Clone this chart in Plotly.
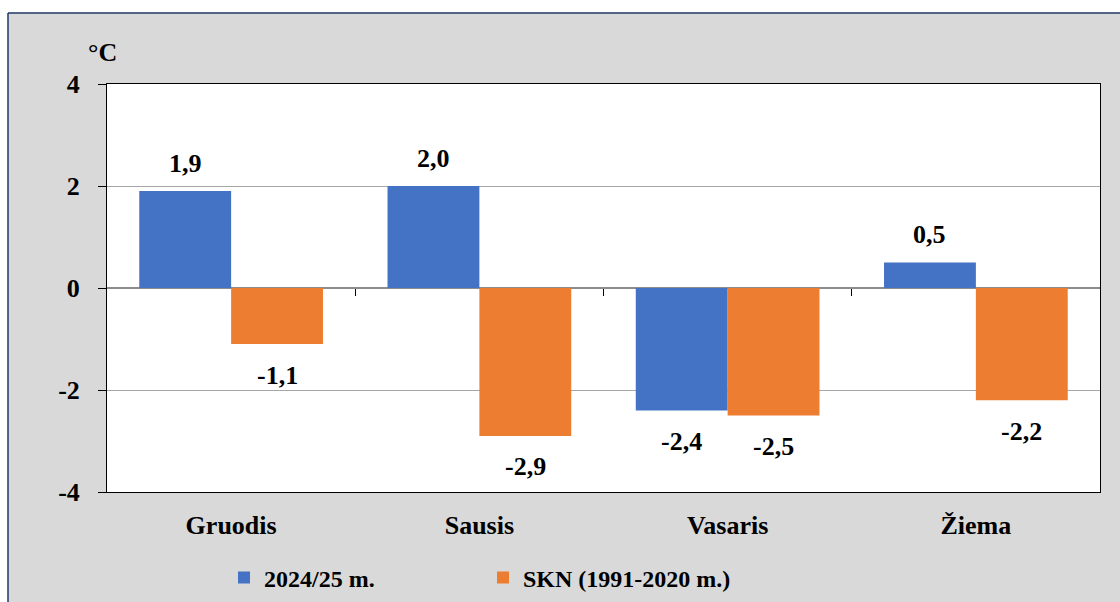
import plotly.graph_objects as go

categories = ["Gruodis", "Sausis", "Vasaris", "Žiema"]
series_names = ["2024/25 m.", "SKN (1991-2020 m.)"]
values_2425 = [1.9, 2.0, -2.4, 0.5]
values_skn = [-1.1, -2.9, -2.5, -2.2]
y_ticks = [-4, -2, 0, 2, 4]
y_ticklabels = ["-4", "-2", "0", "2", "4"]
colors = ["#4472C4", "#ED7D31"]

FONT = "Liberation Serif"
W, H = 1120, 602

# paper == whole figure (zero margins); plot area placed by axis domains
def fx(px):
    return px / W

def fy(py):
    return 1 - py / H

PLOT_L, PLOT_R, PLOT_T, PLOT_B = 107, 1100, 84, 492
ZERO_Y = (PLOT_T + PLOT_B) / 2

fig = go.Figure()
for name, vals, col in zip(series_names, [values_2425, values_skn], colors):
    fig.add_trace(go.Bar(x=categories, y=vals, name=name, marker=dict(color=col, line=dict(width=0))))

# invisible helper trace for x boundary ticks on the zero line
fig.add_trace(go.Scatter(x=[0.5, 1.5, 2.5], y=[0, 0, 0], xaxis="x2", mode="markers",
                         marker=dict(opacity=0), showlegend=False, hoverinfo="skip"))

def fmt(v):
    return f"{v:.1f}".replace(".", ",")

bold26 = dict(family=FONT, size=26, color="black", weight="bold")

bar_half = 46
annotations = []
for vals, shift in [(values_2425, -bar_half), (values_skn, bar_half)]:
    for c, v in zip(categories, vals):
        annotations.append(dict(x=c, y=v, xref="x", yref="y", text=fmt(v), showarrow=False,
                                xanchor="center", yanchor="middle",
                                xshift=shift, yshift=28 if v >= 0 else -31, font=bold26))
annotations.append(dict(x=fx(102), y=fy(52), xref="paper", yref="paper", text="°C",
                        showarrow=False, xanchor="center", yanchor="middle", font=bold26))

shapes = [
    dict(type="rect", xref="paper", yref="paper", x0=0, x1=1, y0=fy(13), y1=1,
         fillcolor="white", line=dict(width=0)),
    dict(type="rect", xref="paper", yref="paper", x0=0, x1=fx(8), y0=0, y1=1,
         fillcolor="white", line=dict(width=0)),
    dict(type="line", xref="paper", yref="paper", x0=fx(8), x1=1, y0=fy(13), y1=fy(13),
         line=dict(color="#203864", width=1.5)),
    dict(type="line", xref="paper", yref="paper", x0=fx(8), x1=fx(8), y0=0, y1=fy(13),
         line=dict(color="#203864", width=1.5)),
]

fig.update_layout(
    template="none",
    width=W, height=H,
    margin=dict(l=0, r=0, t=0, b=0, pad=0, autoexpand=False),
    paper_bgcolor="#D9D9D9",
    plot_bgcolor="white",
    barmode="group",
    bargap=0.26,
    bargroupgap=0,
    font=bold26,
    xaxis=dict(domain=[fx(PLOT_L), fx(PLOT_R)], automargin=False, showgrid=False, showline=True, mirror=True,
               linecolor="black", linewidth=1, ticks="", tickfont=bold26, ticklabelstandoff=10,
               zeroline=False),
    xaxis2=dict(domain=[fx(PLOT_L), fx(PLOT_R)], overlaying="x", anchor="free", position=fy(ZERO_Y),
                automargin=False, range=[-0.5, 3.5], showgrid=False, showline=False, zeroline=False,
                showticklabels=False, ticks="outside", ticklen=7, tickcolor="black", tickwidth=1,
                tickvals=[0.5, 1.5, 2.5]),
    yaxis=dict(domain=[fy(PLOT_B), fy(PLOT_T)], automargin=False, range=[-4, 4], tickvals=y_ticks,
               ticktext=y_ticklabels, showgrid=True, gridcolor="#A6A6A6", gridwidth=1, zeroline=True,
               zerolinecolor="#8C8C8C", zerolinewidth=1.5, showline=True, mirror=True, linecolor="black",
               linewidth=1, ticks="outside", ticklen=8, tickcolor="black", tickfont=bold26,
               ticklabelstandoff=13),
    legend=dict(orientation="h", x=fx(224), xanchor="left", y=fy(578), yanchor="middle",
                bgcolor="rgba(0,0,0,0)", borderwidth=0,
                font=dict(family=FONT, size=24, color="black", weight="bold"),
                entrywidth=214, entrywidthmode="pixels", itemwidth=30),
    annotations=annotations,
    shapes=shapes,
)

fig.write_html("out.html", config={"displayModeBar": False},
               post_script="document.body.style.margin='0';document.body.style.overflow='hidden';")
